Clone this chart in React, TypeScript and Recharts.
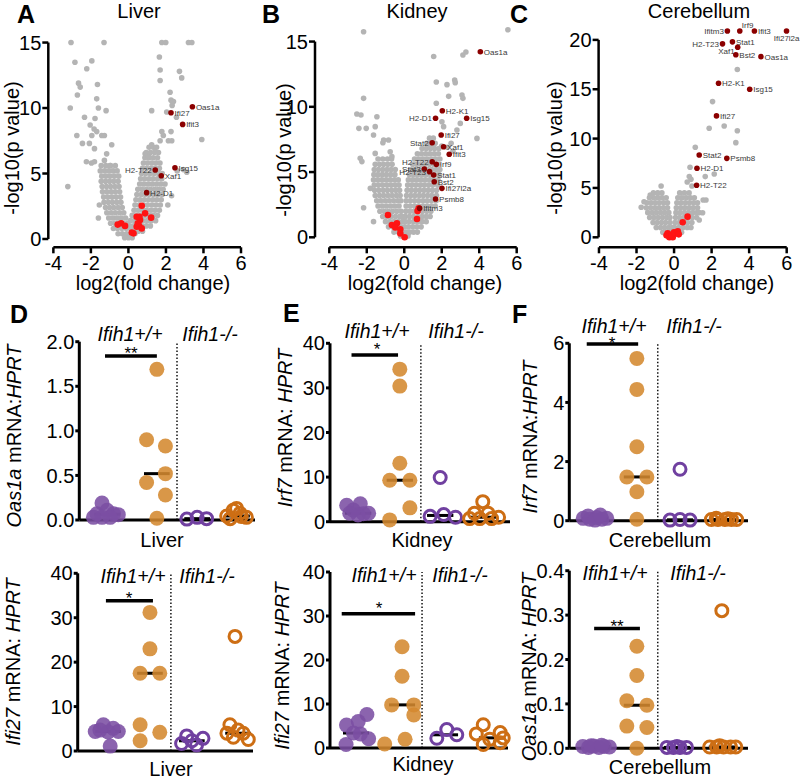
import React from 'react';
import { ScatterChart, Scatter, XAxis, YAxis, ReferenceLine } from 'recharts';

const PAGE_W = 800;
const PAGE_H = 781;
const FONT = '"Liberation Sans", Arial, Helvetica, sans-serif';
const YW = 40;
const XH = 20;

const GRAY = '#b4b4b4';
const RED = '#ff1414';
const DARK_RED = '#8b0000';
const PURPLE = '#7b4fa3';
const ORANGE = '#d4892f';
const PURPLE_OPEN = '#7040a0';
const ORANGE_OPEN = '#cd6e14';

type Row = [number, number[]]; // [-log10 p, [log2 fc ...]]
type Pt = [number, number];
type Gene = [string, number, number];

// ===== A: Liver volcano =====
const liverCloud: Row[] = [
  [7.0, [1.1, 1.32, 1.5]],
  [6.6, [0.95, 1.17, 1.4, 1.6]],
  [6.2, [0.88, 1.1, 1.32, 1.55]],
  [5.8, [0.8, 1.02, 1.25, 1.47, 1.68]],
  [5.6, [-1.45, -1.2, -0.95, -0.7]],
  [5.4, [0.75, 0.97, 1.2, 1.42, 1.65]],
  [5.2, [-1.5, -1.27, -1.05, -0.82, -0.6]],
  [5.0, [0.7, 0.92, 1.15, 1.37, 1.6, 1.8]],
  [4.8, [-1.42, -1.2, -0.98, -0.75, -0.52]],
  [4.6, [0.65, 0.87, 1.1, 1.32, 1.55, 1.78]],
  [4.4, [-1.45, -1.22, -1.0, -0.78, -0.55]],
  [4.2, [0.6, 0.82, 1.05, 1.27, 1.5, 1.72, 1.95]],
  [4.0, [-1.4, -1.17, -0.95, -0.72, -0.5]],
  [3.8, [0.5, 0.72, 0.95, 1.17, 1.4, 1.62, 1.85]],
  [3.6, [-1.38, -1.15, -0.92, -0.7, -0.47]],
  [3.4, [0.45, 0.68, 0.9, 1.12, 1.35, 1.57, 1.8]],
  [3.2, [-1.32, -1.1, -0.87, -0.65, -0.42]],
  [3.0, [0.4, 0.62, 0.85, 1.07, 1.3, 1.52, 1.75]],
  [2.8, [-1.3, -1.07, -0.85, -0.62, -0.4]],
  [2.6, [0.35, 0.57, 0.8, 1.02, 1.25, 1.47, 1.7]],
  [2.4, [-1.22, -1.0, -0.78, -0.55, -0.33]],
  [2.2, [0.3, 0.52, 0.75, 0.97, 1.2, 1.42, 1.65]],
  [2.0, [-1.15, -0.92, -0.7, -0.47, -0.25]],
  [1.8, [0.2, 0.42, 0.65, 0.87, 1.1, 1.32, 1.55]],
  [1.6, [-1.05, -0.82, -0.6, -0.38, -0.15]],
  [1.4, [0.1, 0.32, 0.55, 0.77, 1.0, 1.22, 1.45]],
  [1.2, [-0.95, -0.72, -0.5, -0.28, -0.05]],
  [1.0, [0.05, 0.27, 0.5, 0.72, 0.95, 1.17]],
  [0.8, [-0.8, -0.58, -0.35, -0.12, 0.1]],
  [0.6, [0.3, 0.52, 0.75]],
  [0.4, [-0.55, -0.33, -0.1, 0.12, 0.35]],
  [0.1, [-0.2, 0.0, 0.2]],
];
const liverOutliers: Pt[] = [
  [-3.06, 15], [-1.3, 15], [1.78, 15], [1.99, 15], [3.2, 15], [3.38, 15],
  [-2.85, 13.5], [-1.95, 13.6], [-2.22, 13.0], [1.65, 13.9], [1.69, 12.9], [2.72, 12.8], [2.84, 12.3],
  [-2.66, 11.9], [-2.57, 11.6], [-1.65, 11.8], [-2.72, 11.0], [-1.69, 10.7], [1.69, 12.1], [2.22, 11.2],
  [2.27, 10.6], [2.4, 10.5], [2.33, 10.2], [-3.1, 10.0], [-1.6, 10.0], [-1.19, 9.8], [-2.34, 9.3],
  [-1.78, 9.2], [1.24, 9.8], [2.04, 9.7], [2.56, 9.3], [-2.04, 8.7], [-1.83, 8.4], [-1.69, 8.2],
  [-1.42, 7.9], [-1.28, 7.9], [-2.75, 7.9], [-1.95, 7.9], [-2.08, 7.3], [-1.81, 6.9], [-2.45, 7.3],
  [-0.89, 7.2], [-1.16, 6.5], [-2.24, 5.9], [-1.97, 5.8], [-1.81, 5.9], [-1.28, 6.0], [-0.98, 5.6],
  [-3.23, 4.0], [1.78, 8.2], [1.86, 7.9], [2.27, 8.2], [3.91, 7.6], [1.69, 7.5], [2.13, 7.5],
  [2.31, 7.5], [1.24, 7.2], [1.42, 6.7], [0.89, 6.5], [1.07, 6.3], [2.93, 5.3], [3.11, 5.1],
  [-1.6, 1.6], [-1.55, 2.6], [2.3, 3.3], [2.1, 2.6], [2.6, 5.2],
];
const liverRed: Pt[] = [
  [0.71, 2.54], [0.89, 1.96], [1.21, 1.63], [0.44, 1.7], [0.62, 1.45], [0.57, 1.0], [0.44, 0.94],
  [0.71, 0.81], [-0.39, 1.2], [-0.18, 1.0], [-0.57, 1.1], [0.27, 0.43], [0.18, 0.5], [0.59, 1.7], [0.5, 1.2],
];
const liverGenes: Gene[] = [
  ['Oas1a', 3.41, 10.1], ['Ifi27', 2.27, 9.64], ['Ifit3', 2.89, 8.75], ['Isg15', 2.48, 5.44],
  ['H2-T22', 1.43, 5.27], ['Xaf1', 1.75, 4.83], ['H2-D1', 0.97, 3.54],
];

// ===== B: Kidney volcano =====
const kidneyCloud: Row[] = [
  [7.6, [1.35, 1.55]],
  [7.2, [1.2, 1.42, 1.65]],
  [6.8, [0.95, 1.17, 1.4, 1.62, 1.85]],
  [6.4, [0.7, 0.92, 1.15, 1.37, 1.6, 1.82]],
  [6.0, [-1.4, -1.15, -0.9, -0.68, 0.55, 0.77, 1.0, 1.22, 1.45, 1.67, 1.9]],
  [5.6, [-1.55, -1.32, -1.1, -0.88, -0.65, 0.45, 0.67, 0.9, 1.12, 1.35, 1.57, 1.8]],
  [5.2, [-1.6, -1.38, -1.15, -0.92, -0.7, -0.48, 0.35, 0.57, 0.8, 1.02, 1.25, 1.47, 1.7, 1.9]],
  [4.8, [-1.62, -1.4, -1.17, -0.95, -0.72, -0.5, 0.28, 0.5, 0.72, 0.95, 1.17, 1.4, 1.62, 1.85]],
  [4.4, [-1.64, -1.42, -1.2, -0.97, -0.75, -0.52, -0.32, 0.22, 0.45, 0.67, 0.9, 1.12, 1.35, 1.57, 1.8]],
  [4.0, [-1.6, -1.38, -1.15, -0.92, -0.7, -0.48, -0.28, 0.18, 0.4, 0.62, 0.85, 1.07, 1.3, 1.52, 1.78]],
  [3.6, [-1.58, -1.35, -1.12, -0.9, -0.67, -0.45, -0.25, 0.15, 0.37, 0.6, 0.82, 1.05, 1.27, 1.5, 1.72]],
  [3.2, [-1.55, -1.32, -1.1, -0.87, -0.65, -0.42, -0.22, 0.12, 0.35, 0.57, 0.8, 1.02, 1.25, 1.47, 1.72]],
  [2.8, [-1.47, -1.25, -1.02, -0.8, -0.57, -0.35, -0.18, 0.1, 0.32, 0.55, 0.77, 1.0, 1.22, 1.45, 1.7]],
  [2.4, [-1.4, -1.17, -0.95, -0.72, -0.5, -0.28, 0.1, 0.32, 0.55, 0.77, 1.0, 1.22, 1.45, 1.65]],
  [2.0, [-1.3, -1.07, -0.85, -0.62, -0.4, -0.17, 0.08, 0.3, 0.52, 0.75, 0.97, 1.2, 1.42]],
  [1.6, [-1.15, -0.92, -0.7, -0.47, -0.25, -0.1, 0.06, 0.28, 0.5, 0.72, 0.95, 1.17, 1.38]],
  [1.2, [-1.0, -0.77, -0.55, -0.32, -0.1, 0.05, 0.27, 0.5, 0.72, 0.95, 1.17]],
  [0.8, [-0.84, -0.62, -0.4, -0.18, 0.02, 0.22, 0.45, 0.67, 0.9]],
  [0.4, [-0.55, -0.32, -0.1, 0.12, 0.3, 0.5, 0.7]],
  [0.1, [-0.2, 0.0, 0.2]],
];
const kidneyOutliers: Pt[] = [
  [-2.17, 15.75], [5.53, 15.9], [3.29, 14.2], [3.13, 13.97], [1.57, 13.85], [1.71, 11.9], [2.28, 11.7],
  [2.69, 12.05], [2.72, 11.85], [-2.17, 10.65], [2.37, 10.8], [3.08, 10.9], [3.13, 10.65], [1.71, 10.27],
  [-2.53, 9.45], [-2.31, 9.37], [-1.46, 9.24], [-2.42, 8.35], [-2.03, 8.35], [-1.55, 8.48], [-1.64, 7.84],
  [-1.1, 7.46], [-0.84, 7.46], [-1.14, 7.25], [2.01, 8.86], [2.1, 8.48], [2.99, 8.73], [2.81, 8.22],
  [3.88, 7.58], [-2.35, 6.05], [-2.26, 5.8], [-1.55, 6.43], [-0.75, 6.56], [-0.66, 6.18], [-2.17, 2.27],
  [-1.64, 1.2], [-1.81, 3.75], [1.39, 6.9], [2.5, 7.2], [2.3, 6.9], [2.0, 7.0], [2.6, 6.6],
];
const kidneyRed: Pt[] = [
  [-0.87, 1.71], [-0.66, 0.94], [-0.39, 1.07], [-0.48, 0.76], [-0.21, 0.61], [-0.21, 0.3], [0.02, 0.0],
  [0.77, 2.22], [0.71, 2.02], [0.68, 1.4],
];
const kidneyGenes: Gene[] = [
  ['Oas1a', 4.06, 14.22], ['H2-K1', 2.03, 9.7], ['H2-D1', 1.67, 9.12], ['Isg15', 3.33, 9.12],
  ['Ifi27', 1.97, 7.84], ['Stat2', 1.49, 7.25], ['Xaf1', 2.1, 6.94], ['Ifit3', 2.4, 6.36],
  ['H2-T22', 1.49, 5.79], ['Irf9', 1.71, 5.59], ['Stat3', 1.07, 5.23], ['H2-T23', 1.35, 5.03],
  ['Stat1', 1.57, 4.77], ['Bst2', 1.6, 4.26], ['Ifi27l2a', 2.01, 3.75], ['Psmb8', 1.67, 2.93],
  ['Ifitm3', 0.82, 2.22],
];

// ===== C: Cerebellum volcano =====
const cerebCloud: Row[] = [
  [4.5, [-1.1, -0.87, -0.65, 0.3, 0.55, 0.8]],
  [4.0, [-1.31, -1.08, -0.86, -0.64, -0.42, 0.2, 0.42, 0.65, 0.87, 1.08]],
  [3.5, [-1.45, -1.22, -1.0, -0.78, -0.55, -0.35, 0.15, 0.37, 0.6, 0.82, 1.05, 1.25]],
  [3.0, [-1.48, -1.25, -1.02, -0.8, -0.57, -0.35, 0.12, 0.35, 0.57, 0.8, 1.02, 1.25]],
  [2.5, [-1.4, -1.17, -0.95, -0.72, -0.5, -0.28, 0.1, 0.32, 0.55, 0.77, 1.0, 1.22, 1.34]],
  [2.0, [-1.3, -1.07, -0.85, -0.62, -0.4, -0.22, 0.08, 0.3, 0.52, 0.75, 0.97, 1.2]],
  [1.5, [-1.12, -0.9, -0.67, -0.45, -0.22, 0.05, 0.27, 0.5, 0.72, 0.95]],
  [1.0, [-0.95, -0.72, -0.5, -0.28, -0.1, 0.03, 0.25, 0.48, 0.7, 0.9]],
  [0.5, [-0.6, -0.38, -0.15, 0.0, 0.2, 0.4]],
];
const cerebOutliers: Pt[] = [
  [3.37, 17.0], [2.05, 13.75], [1.87, 11.05], [2.67, 11.27], [3.37, 10.8], [3.29, 9.59], [1.13, 9.12],
  [0.85, 7.09], [0.81, 6.15], [1.66, 6.15], [2.14, 6.42], [0.9, 5.87], [-0.69, 5.2], [1.55, 3.78],
  [1.7, 3.78], [-1.27, 4.29], [-0.87, 4.46], [-1.75, 3.04], [1.52, 2.49], [1.34, 1.76], [0.95, 5.2],
  [0.7, 5.6], [-1.6, 3.6],
];
const cerebRed: Pt[] = [
  [0.72, 2.09], [0.46, 1.52], [-0.34, 0.4], [-0.25, 0.0], [-0.07, 0.0], [0.11, 0.4], [-0.4, 0.2],
  [-0.15, 0.25], [0.0, 0.5], [0.2, 0.6], [0.25, 0.3],
];
const cerebGenes: Gene[] = [
  ['Ifitm3', 2.84, 20.9], ['Irf9', 3.5, 20.9], ['Ifit3', 4.28, 20.9], ['Ifi27l2a', 5.99, 20.9],
  ['H2-T23', 2.58, 19.6], ['Stat1', 3.11, 19.8], ['Xaf1', 3.39, 19.25], ['Bst2', 3.29, 18.5],
  ['Oas1a', 4.63, 18.3], ['H2-K1', 2.37, 15.6], ['Isg15', 4.03, 15.0], ['Ifi27', 2.26, 12.3],
  ['Stat2', 1.34, 8.34], ['Psmb8', 2.81, 8.0], ['H2-D1', 1.22, 6.99], ['H2-T22', 1.2, 5.27],
];

// ===== D-F: qPCR dot plots, [horizontal jitter, mRNA:HPRT] =====
// groups: Ifih1+/+ mock, Ifih1+/+ infected, Ifih1-/- mock, Ifih1-/- infected
const oasLiverWtMock: Pt[] = [[-0.12, 0.19], [-0.24, 0.07], [0, 0.11], [0.15, 0.07], [0.26, 0.06], [0.07, 0.03], [-0.12, 0.03], [-0.32, 0.03]];
const oasLiverWtInf: Pt[] = [[0, 1.69], [-0.24, 0.9], [0.2, 0.83], [-0.24, 0.42], [0.2, 0.52], [0.2, 0.28], [0, 0.02]];
const oasLiverKoMock: Pt[] = [[-0.24, 0.01], [0, 0.03], [0.22, 0.015]];
const oasLiverKoInf: Pt[] = [[-0.24, 0.045], [-0.09, 0.11], [0.07, 0.075], [0.22, 0.03], [-0.16, 0.015], [-0.01, 0.13], [0.1, 0.04]];

const ifiLiverWtMock: Pt[] = [[-0.11, 5.9], [0.12, 5.1], [-0.3, 4.4], [0.24, 4.4], [0, 4.3], [-0.19, 4.7], [0.05, 1.1]];
const ifiLiverWtInf: Pt[] = [[0, 31.2], [0, 23], [-0.23, 17.5], [0.23, 17.5], [-0.23, 5.9], [0.23, 4.2], [-0.23, 2.3]];
const ifiLiverKoMock: Pt[] = [[-0.12, 3.4], [-0.24, 1.7], [0.11, 1.35], [0.26, 2.85], [0, 2.3]];
const ifiLiverKoInf: Pt[] = [[-0.07, 25.8], [-0.19, 5.9], [-0.26, 4.0], [0, 4.7], [0.12, 4.0], [0.24, 2.6], [-0.11, 3.1]];

const irfKidneyWtMock: Pt[] = [[-0.26, 3.7], [0.05, 4.0], [-0.11, 2.6], [0.24, 1.9], [0.12, 1.8], [-0.19, 1.9], [0, 1.5]];
const irfKidneyWtInf: Pt[] = [[0, 34.2], [0, 30.4], [0, 13.1], [-0.23, 9.3], [0.23, 9.3], [0.23, 3.1], [-0.23, 0.4]];
const irfKidneyKoMock: Pt[] = [[0, 9.9], [-0.23, 1.2], [0.08, 1.6], [0.35, 1.0]];
const irfKidneyKoInf: Pt[] = [[0, 4.5], [-0.19, 1.9], [0.12, 1.9], [-0.3, 0.7], [-0.07, 0.7], [0.2, 0.7], [0.36, 1.0]];

const ifiKidneyWtMock: Pt[] = [[0.25, 7.6], [0.05, 6.0], [-0.22, 5.2], [-0.06, 3.4], [0.29, 2.1], [-0.23, 0.8], [0.1, 3.2]];
const ifiKidneyWtInf: Pt[] = [[0, 23], [0, 16.3], [-0.24, 9.8], [0.27, 9.8], [0.27, 7.5], [0.07, 2.0], [-0.4, 0.9]];
const ifiKidneyKoMock: Pt[] = [[-0.19, 2.2], [0.04, 4.2], [0.27, 3.0]];
const ifiKidneyKoInf: Pt[] = [[-0.2, 5.3], [0.19, 3.5], [-0.36, 3.2], [0.26, 2.3], [-0.05, 2.0], [-0.2, 0.8], [0.19, 1.2]];

const irfCerebWtMock: Pt[] = [[-0.27, 0.08], [-0.12, 0.05], [0.04, 0.11], [0.16, 0.05], [0.27, 0.08], [-0.16, 0.16], [0, 0.02], [0.12, 0.19]];
const irfCerebWtInf: Pt[] = [[0, 5.49], [0, 4.44], [0, 2.5], [-0.23, 1.48], [0.23, 1.48], [0, 0.98], [0, 0.05]];
const irfCerebKoMock: Pt[] = [[0, 1.74], [-0.23, 0.02], [0, 0.04], [0.23, 0.02]];
const irfCerebKoInf: Pt[] = [[-0.26, 0.04], [-0.11, 0.04], [0.05, 0.04], [0.2, 0.04], [-0.15, 0.08], [0.12, 0.07], [0.32, 0.04]];

const oasCerebWtMock: Pt[] = [[-0.33, 0.004], [-0.2, 0.002], [-0.08, 0.005], [0.04, 0.002], [0.16, 0.004], [0.28, 0.003], [-0.14, 0.006], [0.1, 0.007]];
const oasCerebWtInf: Pt[] = [[0, 0.23], [0, 0.164], [-0.23, 0.107], [0.23, 0.097], [-0.23, 0.05], [0.23, 0.047], [0, 0.0]];
const oasCerebKoMock: Pt[] = [[-0.23, 0.002], [-0.08, 0.002], [0.07, 0.002], [0.22, 0.002], [0, 0.004]];
const oasCerebKoInf: Pt[] = [[0, 0.31], [-0.28, 0.003], [-0.12, 0.003], [0.04, 0.003], [0.2, 0.003], [0.32, 0.003], [-0.05, 0.006]];

// ---------- layout ----------
const abs: React.CSSProperties = { position: 'absolute', left: 0, top: 0 };
const marginFor = (l: number, t: number, r: number, b: number) => ({
  left: l - YW, top: t, right: PAGE_W - r, bottom: PAGE_H - b - XH,
});
const tickFont = { fontSize: 20, fill: '#000', fontFamily: FONT };

const LABEL_OFFSETS: Record<string, { dx: number; dy: number; anchor: 'start' | 'end' }> = {
  r: { dx: 3.5, dy: 3, anchor: 'start' },
  l: { dx: -3.5, dy: 3, anchor: 'end' },
  lb: { dx: -3, dy: 7, anchor: 'end' },
  t: { dx: 2, dy: -3, anchor: 'start' },
  b: { dx: 13, dy: 10, anchor: 'end' },
};

const volcanoLayouts = {
  liver: { l: 48.3, r: 241, t: 36, b: 247.3, xMin: -4.27, yMin: -0.634, yMax: 15.5, yTop: 15, yTicks: [0, 5, 10, 15],
    place: { 'H2-T22': 'l' } as Record<string, string> },
  kidney: { l: 315, r: 516.7, t: 24.6, b: 247.3, xMin: -4.763, yMin: -0.766, yMax: 16.3, yTop: 15, yTicks: [0, 5, 10, 15],
    place: { 'H2-D1': 'l', Stat2: 'l', 'H2-T22': 'l', Stat3: 'l', 'H2-T23': 'l' } as Record<string, string> },
  cereb: { l: 598.6, r: 786.7, t: 24.1, b: 247.3, xMin: -4.02, yMin: -1.013, yMax: 21.6, yTop: 20, yTicks: [0, 5, 10, 15, 20],
    place: { Ifitm3: 'l', 'H2-T23': 'l', Xaf1: 'lb', Irf9: 't', Ifi27l2a: 'b' } as Record<string, string> },
};

const toPts = (pts: Pt[]) => pts.map(([x, y]) => ({ x, y }));
const rowsToPts = (rows: Row[]) => rows.flatMap(([y, xs]) => xs.map((x) => ({ x, y })));

function Volcano({ lay, cloud, outliers, red, genes }: any) {
  const gray = [...rowsToPts(cloud), ...toPts(outliers)];
  const named = genes.map(([name, x, y]: Gene) => ({ name, x, y }));
  const geneShape = (p: any) => {
    const o = LABEL_OFFSETS[lay.place[p.payload.name] || 'r'];
    return (
      <g>
        <circle cx={p.cx} cy={p.cy} r={2.8} fill={DARK_RED} />
        <text x={p.cx + o.dx} y={p.cy + o.dy} textAnchor={o.anchor} fontSize={8} fill="#3a3a3a" fontFamily={FONT}>
          {p.payload.name}
        </text>
      </g>
    );
  };
  return (
    <div style={abs}>
      <ScatterChart width={PAGE_W} height={PAGE_H} margin={marginFor(lay.l, lay.t, lay.r, lay.b)}>
        <XAxis type="number" dataKey="x" domain={[lay.xMin, 6]} ticks={[-4, -2, 0, 2, 4, 6]} height={XH}
          axisLine={false} tickLine={{ stroke: '#000', strokeWidth: 2.5 }} tickSize={6} tick={tickFont} />
        <YAxis type="number" dataKey="y" domain={[lay.yMin, lay.yMax]} ticks={lay.yTicks} width={YW}
          axisLine={false} tickLine={{ stroke: '#000', strokeWidth: 2.5 }} tickSize={6} tickMargin={1} tick={tickFont} />
        <ReferenceLine segment={[{ x: -4, y: lay.yMin }, { x: 6, y: lay.yMin }]} stroke="#000" strokeWidth={2.5} ifOverflow="visible" />
        <ReferenceLine segment={[{ x: lay.xMin, y: 0 }, { x: lay.xMin, y: lay.yTop }]} stroke="#000" strokeWidth={2.5} ifOverflow="visible" />
        <Scatter data={gray} isAnimationActive={false}
          shape={(p: any) => <circle cx={p.cx} cy={p.cy} r={2.8} fill={GRAY} />} />
        <Scatter data={toPts(red)} isAnimationActive={false}
          shape={(p: any) => <circle cx={p.cx} cy={p.cy} r={3.3} fill={RED} />} />
        <Scatter data={named} isAnimationActive={false} shape={geneShape} />
      </ScatterChart>
    </div>
  );
}

const dotLayouts = {
  oasLiver: { l: 79.3, r: 255, t: 341.7, b: 520, yMax: 2, ticks: [0, 0.5, 1, 1.5, 2], dec: 1,
    groupX: [1.0, 2.16, 3.1, 4.03], divider: 2.63, xTick: 1.0, sig: [0.95, 2.16, 1.84] },
  ifiLiver: { l: 77.7, r: 253, t: 573.3, b: 751, yMax: 40, ticks: [0, 10, 20, 30, 40], dec: 0,
    groupX: [1.06, 2.04, 3.02, 4.1], divider: 2.53, xTick: 2.53, sig: [1.01, 2.11, 33.8] },
  irfKidney: { l: 330, r: 510, t: 343.3, b: 521.7, yMax: 40, ticks: [0, 10, 20, 30, 40], dec: 0,
    groupX: [0.99, 1.94, 2.86, 3.83], divider: 2.42, xTick: 2.45, sig: [0.84, 1.9, 37.4] },
  ifiKidney: { l: 330, r: 508, t: 572, b: 748, yMax: 40, ticks: [0, 10, 20, 30, 40], dec: 0,
    groupX: [0.95, 2.01, 3.0, 4.08], divider: 2.47, xTick: 2.47, sig: [0.62, 2.31, 30.5] },
  irfCereb: { l: 569.3, r: 748, t: 343.3, b: 520.7, yMax: 6, ticks: [0, 2, 4, 6], dec: 0,
    groupX: [0.94, 1.9, 2.89, 3.87], divider: 2.38, xTick: 2.38, sig: [0.75, 1.93, 5.98] },
  oasCereb: { l: 569.3, r: 748, t: 570.7, b: 748.3, yMax: 0.4, ticks: [0, 0.1, 0.2, 0.3, 0.4], dec: 1,
    groupX: [0.99, 1.9, 2.82, 3.85], divider: 2.38, xTick: 2.38, sig: [0.92, 1.97, 0.27] },
};

const median = (vals: number[]) => {
  const s = [...vals].sort((a, b) => a - b);
  const m = Math.floor(s.length / 2);
  return s.length % 2 ? s[m] : (s[m - 1] + s[m]) / 2;
};

const GROUP_STYLE = [
  { fill: PURPLE, open: false },
  { fill: ORANGE, open: false },
  { fill: PURPLE_OPEN, open: true },
  { fill: ORANGE_OPEN, open: true },
];

function DotPlot({ lay, groups }: any) {
  const sets = groups.map((g: Pt[], gi: number) => g.map(([j, v]) => ({ x: lay.groupX[gi] + j, y: v })));
  const axisStyle = { stroke: '#000', strokeWidth: 3 };
  return (
    <div style={abs}>
      <ScatterChart width={PAGE_W} height={PAGE_H} margin={marginFor(lay.l, lay.t, lay.r, lay.b)}>
        <XAxis type="number" dataKey="x" domain={[0.35, 4.45]} ticks={[lay.xTick]} height={XH}
          axisLine={axisStyle} tickLine={axisStyle} tickSize={7} tick={false} />
        <YAxis type="number" dataKey="y" domain={[0, lay.yMax]} ticks={lay.ticks} width={YW}
          tickFormatter={(v: number) => v.toFixed(lay.dec)}
          axisLine={axisStyle} tickLine={axisStyle} tickSize={4} tickMargin={1} tick={tickFont} />
        <ReferenceLine segment={[{ x: lay.divider, y: 0 }, { x: lay.divider, y: lay.yMax }]}
          stroke="#000" strokeWidth={1.4} strokeDasharray="1.5 2" ifOverflow="visible" />
        {groups.map((g: Pt[], gi: number) => {
          const m = median(g.map((p) => p[1]));
          return (
            <ReferenceLine key={`med-${gi}`} segment={[{ x: lay.groupX[gi] - 0.3, y: m }, { x: lay.groupX[gi] + 0.3, y: m }]}
              stroke="#000" strokeWidth={3} ifOverflow="visible" />
          );
        })}
        <ReferenceLine segment={[{ x: lay.sig[0], y: lay.sig[2] }, { x: lay.sig[1], y: lay.sig[2] }]}
          stroke="#000" strokeWidth={3.5} ifOverflow="visible" />
        {sets.map((s: any[], gi: number) => {
          const st = GROUP_STYLE[gi];
          return (
            <Scatter key={`g-${gi}`} data={s} isAnimationActive={false}
              shape={(p: any) => st.open
                ? <circle cx={p.cx} cy={p.cy} r={6} fill="none" stroke={st.fill} strokeWidth={3} />
                : <circle cx={p.cx} cy={p.cy} r={7.5} fill={st.fill} fillOpacity={0.88} />} />
          );
        })}
      </ScatterChart>
    </div>
  );
}

// ---------- text annotations ----------
const yLabel = (bx: number, cy: number, gene: string, sep: string) => (
  <text key={`yl-${bx}-${cy}`} transform={`translate(${bx},${cy}) rotate(-90)`} textAnchor="middle" fontSize={20}>
    <tspan fontStyle="italic">{gene}</tspan>
    <tspan>{' mRNA:' + sep}</tspan>
    <tspan fontStyle="italic">HPRT</tspan>
  </text>
);

const headers: [number, number][][] = [
  [[130, 341], [210, 341]],
  [[377, 338], [456, 338]],
  [[614, 333], [694, 333]],
  [[133, 583], [207, 583]],
  [[384, 582], [460, 582]],
  [[615, 580], [698, 580]],
];

function Annotations() {
  return (
    <svg width={PAGE_W} height={PAGE_H} style={{ ...abs, pointerEvents: 'none' }} fontFamily={FONT} fill="#000">
      {[['A', 17, 23], ['B', 262, 23], ['C', 510, 23], ['D', 10, 323], ['E', 283, 322], ['F', 512, 323]].map(([t, x, y]) => (
        <text key={t as string} x={x as number} y={y as number} fontSize={25} fontWeight="bold">{t}</text>
      ))}
      {[['Liver', 139], ['Kidney', 417], ['Cerebellum', 699]].map(([t, x]) => (
        <text key={`tt-${t}`} x={x as number} y={18} fontSize={20} textAnchor="middle">{t}</text>
      ))}
      {[153, 425, 697].map((x) => (
        <text key={`xl-${x}`} x={x} y={290} fontSize={20} textAnchor="middle">log2(fold change)</text>
      ))}
      {[[19, 148], [291, 150], [562, 148]].map(([bx, cy]) => (
        <text key={`vy-${bx}`} transform={`translate(${bx},${cy}) rotate(-90)`} fontSize={20} textAnchor="middle">-log10(p value)</text>
      ))}
      {yLabel(21, 436, 'Oas1a', '')}
      {yLabel(20, 662, 'Ifi27', ' ')}
      {yLabel(292, 428, 'Irf7', ' ')}
      {yLabel(289, 666, 'Ifi27', ' ')}
      {yLabel(537, 437, 'Irf7', '')}
      {yLabel(536, 667, 'Oas1a', ' ')}
      {headers.map((pair, i) => (
        <g key={`h-${i}`} fontStyle="italic" fontSize={19.5} textAnchor="middle">
          <text x={pair[0][0]} y={pair[0][1]}>Ifih1+/+</text>
          <text x={pair[1][0]} y={pair[1][1]}>Ifih1-/-</text>
        </g>
      ))}
      {[['**', 131, 359], ['*', 377, 355], ['*', 612, 349], ['*', 129, 604], ['*', 379, 614], ['**', 617, 632]].map(([t, x, y], i) => (
        <text key={`s-${i}`} x={x as number} y={y as number} fontSize={17} textAnchor="middle">{t}</text>
      ))}
      {[['Liver', 162, 547], ['Kidney', 422, 547], ['Cerebellum', 660, 547], ['Liver', 171, 776], ['Kidney', 423, 771], ['Cerebellum', 660, 774]].map(([t, x, y], i) => (
        <text key={`tl-${i}`} x={x as number} y={y as number} fontSize={20} textAnchor="middle">{t}</text>
      ))}
    </svg>
  );
}

export default function App() {
  return (
    <div style={{ ...abs, width: PAGE_W, height: PAGE_H, background: '#fff', fontFamily: FONT }}>
      <Volcano lay={volcanoLayouts.liver} cloud={liverCloud} outliers={liverOutliers} red={liverRed} genes={liverGenes} />
      <Volcano lay={volcanoLayouts.kidney} cloud={kidneyCloud} outliers={kidneyOutliers} red={kidneyRed} genes={kidneyGenes} />
      <Volcano lay={volcanoLayouts.cereb} cloud={cerebCloud} outliers={cerebOutliers} red={cerebRed} genes={cerebGenes} />
      <DotPlot lay={dotLayouts.oasLiver} groups={[oasLiverWtMock, oasLiverWtInf, oasLiverKoMock, oasLiverKoInf]} />
      <DotPlot lay={dotLayouts.ifiLiver} groups={[ifiLiverWtMock, ifiLiverWtInf, ifiLiverKoMock, ifiLiverKoInf]} />
      <DotPlot lay={dotLayouts.irfKidney} groups={[irfKidneyWtMock, irfKidneyWtInf, irfKidneyKoMock, irfKidneyKoInf]} />
      <DotPlot lay={dotLayouts.ifiKidney} groups={[ifiKidneyWtMock, ifiKidneyWtInf, ifiKidneyKoMock, ifiKidneyKoInf]} />
      <DotPlot lay={dotLayouts.irfCereb} groups={[irfCerebWtMock, irfCerebWtInf, irfCerebKoMock, irfCerebKoInf]} />
      <DotPlot lay={dotLayouts.oasCereb} groups={[oasCerebWtMock, oasCerebWtInf, oasCerebKoMock, oasCerebKoInf]} />
      <Annotations />
    </div>
  );
}
